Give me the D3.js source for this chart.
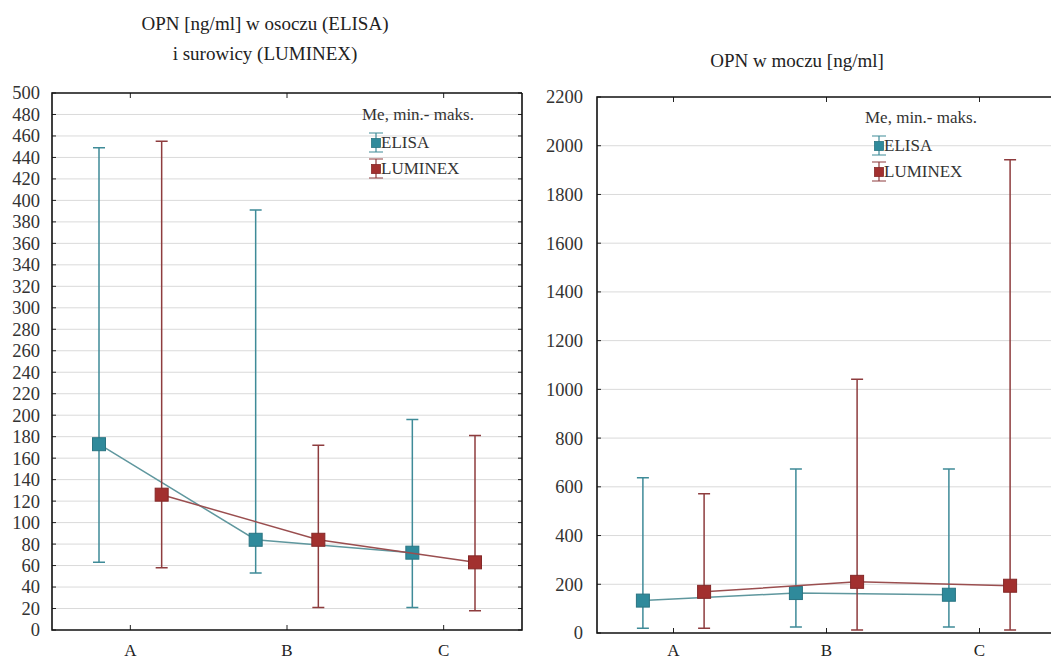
<!DOCTYPE html>
<html>
<head>
<meta charset="utf-8">
<script src="https://cdn.jsdelivr.net/npm/d3@7"></script>
<style>
  body { margin: 0; background: #fff; }
  svg { display: block; font-family: "Liberation Serif", "DejaVu Serif", serif; }
</style>
</head>
<body>
<svg id="chart" width="1051" height="661"></svg>
<script>
// DATA
const groups = ["A", "B", "C"];
const seriesNames = ["ELISA", "LUMINEX"];
const legendTitle = "Me, min.- maks.";

// plasma / serum OPN [ng/ml]
const plasmaElisaMed = [173, 84, 72];
const plasmaElisaMin = [63, 53, 21];
const plasmaElisaMax = [449, 391, 196];
const plasmaLumMed = [126, 84, 63];
const plasmaLumMin = [58, 21, 18];
const plasmaLumMax = [455, 172, 181];
const plasmaTicks = d3.range(0, 501, 20);

// urine OPN [ng/ml]
const urineElisaMed = [133, 164, 157];
const urineElisaMin = [19, 25, 25];
const urineElisaMax = [637, 673, 673];
const urineLumMed = [169, 210, 194];
const urineLumMin = [19, 12, 12];
const urineLumMax = [572, 1042, 1942];
const urineTicks = d3.range(0, 2201, 200);

const colors = {
  ELISA: { bar: "#3f8b98", fill: "#2f8a9b", line: "#5f979e", stroke: "#2a7482" },
  LUMINEX: { bar: "#8e3c3e", fill: "#a2302f", line: "#9a4e4f", stroke: "#842828" },
};

const svg = d3.select("#chart");

function toRows(med, min, max) {
  return groups.map((g, i) => ({ g, med: med[i], min: min[i], max: max[i] }));
}

function panel(opts) {
  const { x0, x1, y0, y1, domainMax, ticks, labelX, title, titleY, legend, series } = opts;

  const x = d3.scalePoint().domain(groups).range([x0, x1]).padding(0.5);
  const y = d3.scaleLinear().domain([0, domainMax]).range([y0, y1]);
  const off = x.step() * 0.2;

  const g = svg.append("g");
  const clipId = "clip" + Math.round(x0);
  g.append("clipPath").attr("id", clipId)
    .append("rect").attr("x", x0).attr("y", y1 - 1).attr("width", x1 - x0).attr("height", y0 - y1 + 2);

  // grid
  g.append("g")
    .selectAll("line")
    .data(ticks.filter((t) => t > 0 && t < domainMax))
    .join("line")
    .attr("x1", x0).attr("x2", x1)
    .attr("y1", (d) => y(d)).attr("y2", (d) => y(d))
    .attr("stroke", "#dadada").attr("stroke-width", 1);

  // y axis labels
  const yAxis = d3.axisLeft(y).tickValues(ticks).tickSize(0).tickPadding(0).tickFormat(d3.format("d"));
  g.append("g")
    .attr("transform", `translate(${labelX},0)`)
    .call(yAxis)
    .attr("font-family", null)
    .attr("font-size", null)
    .call((a) => a.select(".domain").remove())
    .call((a) => a.selectAll("text")
      .attr("font-size", 18.5)
      .attr("fill", "#333"));

  // inner tick marks (left and right borders)
  g.append("g")
    .selectAll("path")
    .data(ticks)
    .join("path")
    .attr("d", (d) => `M${x0},${y(d)}h4M${x1},${y(d)}h-4`)
    .attr("stroke", "#222").attr("stroke-width", 1);

  // x tick marks top/bottom and labels
  g.append("g")
    .selectAll("path")
    .data(groups)
    .join("path")
    .attr("d", (d) => `M${x(d)},${y1}v5M${x(d)},${y0}v-5`)
    .attr("stroke", "#222").attr("stroke-width", 1);

  g.append("g")
    .selectAll("text")
    .data(groups)
    .join("text")
    .attr("x", (d) => x(d))
    .attr("y", 656)
    .attr("text-anchor", "middle")
    .attr("font-size", 17)
    .attr("fill", "#222")
    .text((d) => d);

  // series
  const plot = g.append("g").attr("clip-path", `url(#${clipId})`);
  series.forEach((s, si) => {
    const c = colors[s.name];
    const dx = si === 0 ? -off : off;
    const rows = toRows(s.med, s.min, s.max);
    const px = (d) => x(d.g) + dx;

    plot.append("path")
      .datum(rows)
      .attr("fill", "none")
      .attr("stroke", c.line)
      .attr("stroke-width", 1.5)
      .attr("d", d3.line().x(px).y((d) => y(d.med)));

    const eb = plot.append("g").selectAll("g").data(rows).join("g");
    eb.append("path")
      .attr("d", (d) => `M${px(d)},${y(d.min)}V${y(d.max)}M${px(d) - 6},${y(d.min)}h12M${px(d) - 6},${y(d.max)}h12`)
      .attr("stroke", c.bar).attr("stroke-width", 1.5).attr("fill", "none");
    eb.append("rect")
      .attr("x", (d) => px(d) - 6.5)
      .attr("y", (d) => y(d.med) - 6.5)
      .attr("width", 13).attr("height", 13)
      .attr("fill", c.fill)
      .attr("stroke", c.stroke).attr("stroke-width", 1);
  });

  // frame
  g.append("path")
    .attr("d", `M${x1},${y1}H${x0}V${y0}H${x1}` + (opts.closeRight ? `V${y1}` : ""))
    .attr("fill", "none").attr("stroke", "#111").attr("stroke-width", 1.6);

  // title
  const t = svg.append("text")
    .attr("x", opts.titleX)
    .attr("text-anchor", "middle")
    .attr("font-size", 19)
    .attr("fill", "#222");
  title.forEach((line, i) => {
    t.append("tspan").attr("x", opts.titleX).attr("y", titleY + i * 30).text(line);
  });

  // legend
  const lg = svg.append("g");
  lg.append("text")
    .attr("x", legend.x - 14).attr("y", legend.y)
    .attr("font-size", 17).attr("fill", "#333")
    .text(legendTitle);
  seriesNames.forEach((n, i) => {
    const c = colors[n];
    const cy = legend.y + 23 + i * 26;
    lg.append("path")
      .attr("d", `M${legend.x},${cy - 10}V${cy + 9}M${legend.x - 7},${cy - 10}h14M${legend.x - 7},${cy + 9}h14`)
      .attr("stroke", c.bar).attr("stroke-width", 1.2).attr("fill", "none");
    lg.append("rect")
      .attr("x", legend.x - 4.5).attr("y", cy - 4.5)
      .attr("width", 9).attr("height", 9)
      .attr("fill", c.fill).attr("stroke", c.stroke).attr("stroke-width", 0.8);
    lg.append("text")
      .attr("x", legend.x + 5).attr("y", cy + 5)
      .attr("font-size", 17).attr("fill", "#333")
      .text(n);
  });
}

panel({
  x0: 52, x1: 522, y0: 630, y1: 93,
  domainMax: 500, ticks: plasmaTicks, labelX: 40,
  title: ["OPN [ng/ml] w osoczu (ELISA)", "i surowicy (LUMINEX)"],
  titleX: 265, titleY: 30,
  legend: { x: 376, y: 120 },
  closeRight: true,
  series: [
    { name: "ELISA", med: plasmaElisaMed, min: plasmaElisaMin, max: plasmaElisaMax },
    { name: "LUMINEX", med: plasmaLumMed, min: plasmaLumMin, max: plasmaLumMax },
  ],
});

panel({
  x0: 597, x1: 1056, y0: 633, y1: 97,
  domainMax: 2200, ticks: urineTicks, labelX: 583,
  title: ["OPN w moczu [ng/ml]"],
  titleX: 797, titleY: 67,
  legend: { x: 879, y: 123 },
  closeRight: false,
  series: [
    { name: "ELISA", med: urineElisaMed, min: urineElisaMin, max: urineElisaMax },
    { name: "LUMINEX", med: urineLumMed, min: urineLumMin, max: urineLumMax },
  ],
});
</script>
</body>
</html>
